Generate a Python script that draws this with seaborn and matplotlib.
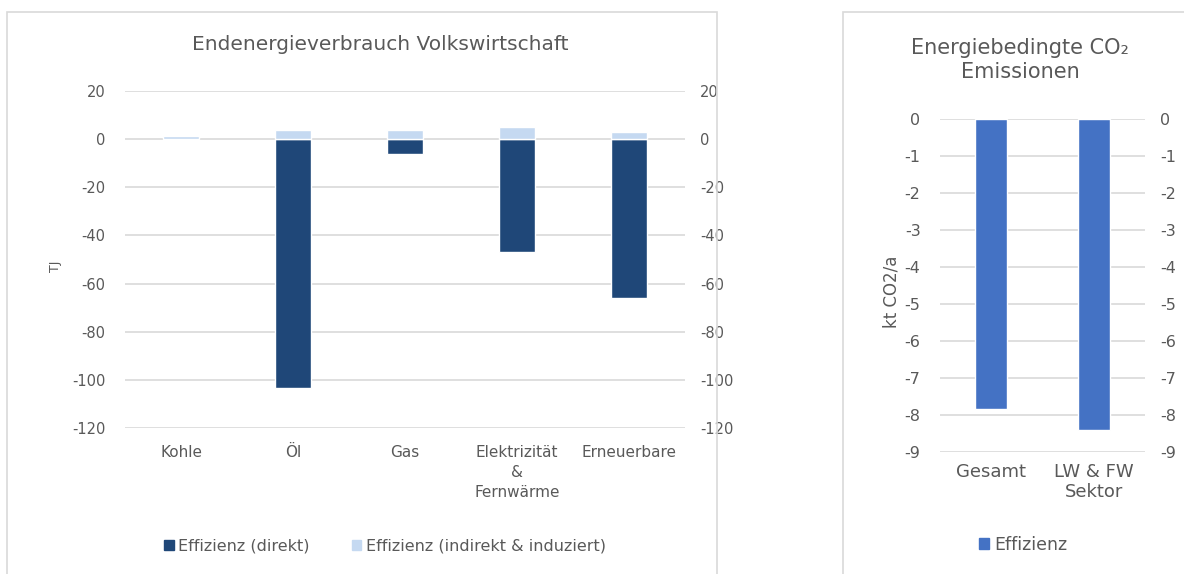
import matplotlib.pyplot as plt
import seaborn as sns
from matplotlib.patches import Patch, Rectangle

# Endenergieverbrauch Volkswirtschaft (TJ)
categories = ["Kohle", "Öl", "Gas", "Elektrizität\n&\nFernwärme", "Erneuerbare"]
effizienz_direkt = [0, -103.5, -6, -47, -66]
effizienz_indirekt = [1.2, 4, 4, 5, 3]
energy_ticks = [20, 0, -20, -40, -60, -80, -100, -120]

# Energiebedingte CO2 Emissionen (kt CO2/a)
co2_categories = ["Gesamt", "LW & FW\nSektor"]
co2_effizienz = [-7.85, -8.4]
co2_ticks = [0, -1, -2, -3, -4, -5, -6, -7, -8, -9]

DARK = "#1f4778"
LIGHT = "#c5d9f1"
MID = "#4472c4"
GRID = "#d9d9d9"
TXT = "#595959"

sns.set_theme(style="white")
plt.rcParams["font.family"] = ["DejaVu Sans"]
plt.rcParams["axes.unicode_minus"] = False

W, H = 1184, 574
fig = plt.figure(figsize=(W / 100, H / 100), dpi=100)

# chart frames
fig.add_artist(Rectangle((7 / W, -0.01), 710 / W, 1 - 12 / H + 0.01,
                         transform=fig.transFigure, fill=False, edgecolor=GRID, lw=1.2))
fig.add_artist(Rectangle((843 / W, -0.01), 400 / W, 1 - 12 / H + 0.01,
                         transform=fig.transFigure, fill=False, edgecolor=GRID, lw=1.2))


def style_axis(ax, ticks, ylim, ysize, xsize, lpad, rpad, xpad):
    ax.set_ylim(*ylim)
    ax.set_yticks(ticks)
    ax.yaxis.grid(True, color=GRID, lw=1.2)
    ax.xaxis.grid(False)
    ax.set_axisbelow(True)
    for s in ax.spines.values():
        s.set_visible(False)
    ax.tick_params(axis="both", length=0, colors=TXT)
    ax.tick_params(axis="y", pad=lpad, labelsize=ysize)
    ax.tick_params(axis="x", pad=xpad, labelsize=xsize)
    ax.set_xlabel("")
    twin = ax.twinx()
    twin.set_ylim(*ylim)
    twin.set_yticks(ticks)
    for s in twin.spines.values():
        s.set_visible(False)
    twin.tick_params(axis="y", length=0, colors=TXT, labelsize=ysize, pad=rpad)
    twin.grid(False)
    return twin


# --- left chart ---
ax1 = fig.add_axes([125 / W, 1 - 428 / H, 560 / W, 337 / H])
sns.barplot(x=categories, y=effizienz_direkt, color=DARK, saturation=1, width=0.32, ax=ax1)
sns.barplot(x=categories, y=effizienz_indirekt, color=LIGHT, saturation=1, width=0.32, ax=ax1)
ax1.set_xlim(-0.5, len(categories) - 0.5)
style_axis(ax1, energy_ticks, (-120, 20), 10.5, 11, 14, 11, 12)
ax1.set_ylabel("TJ", color=TXT, fontsize=9)
ax1.yaxis.set_label_coords((62 - 125) / 560, 0.48)
for lbl in ax1.get_xticklabels():
    lbl.set_linespacing(1.45)

fig.text(380 / W, 1 - 45 / H, "Endenergieverbrauch Volkswirtschaft",
         ha="center", va="center", fontsize=14.5, color=TXT)
fig.legend(handles=[Patch(color=DARK, label="Effizienz (direkt)"),
                    Patch(color=LIGHT, label="Effizienz (indirekt & induziert)")],
           loc="center", bbox_to_anchor=(385 / W, 1 - 546 / H), ncol=2, frameon=False,
           handlelength=0.6, handleheight=0.6, handletextpad=0.3, columnspacing=2.6,
           fontsize=11.5, labelcolor=TXT)

# --- right chart ---
ax2 = fig.add_axes([940 / W, 1 - 452 / H, 205 / W, 333 / H])
sns.barplot(x=co2_categories, y=co2_effizienz, color=MID, saturation=1, width=0.31, ax=ax2)
ax2.set_xlim(-0.5, len(co2_categories) - 0.5)
style_axis(ax2, co2_ticks, (-9, 0), 11.5, 13, 14, 11, 8)
ax2.set_ylabel("kt CO2/a", color=TXT, fontsize=12)
ax2.yaxis.set_label_coords((900 - 940) / 205, 0.48)
for lbl in ax2.get_xticklabels():
    lbl.set_linespacing(1.1)

fig.text(1020 / W, 1 - 60 / H, "Energiebedingte CO₂\nEmissionen",
         ha="center", va="center", fontsize=15, color=TXT, linespacing=1.3)
fig.legend(handles=[Patch(color=MID, label="Effizienz")],
           loc="center", bbox_to_anchor=(1023 / W, 1 - 545 / H), frameon=False,
           handlelength=0.6, handleheight=0.6, handletextpad=0.3,
           fontsize=12.5, labelcolor=TXT)

fig.savefig("out.png", dpi=100)
